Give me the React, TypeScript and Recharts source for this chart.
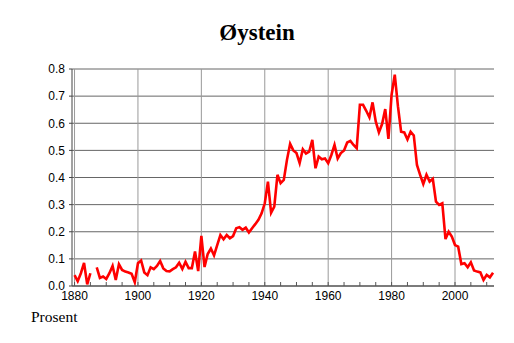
import { CartesianGrid, Line, LineChart, ReferenceLine, XAxis, YAxis } from "recharts";

const title = "Øystein";
const unitLabel = "Prosent";

// share of population (percent), one value per year from firstYear; null = no data
const firstYear = 1880;
const shares: (number | null)[] = [
  0.04, 0.018, 0.047, 0.085, 0.006, 0.047, null, 0.069, 0.03, 0.035,
  0.026, 0.047, 0.074, 0.022, 0.08, 0.059, 0.053, 0.05, 0.045, 0.014,
  0.084, 0.094, 0.05, 0.04, 0.069, 0.062, 0.074, 0.092, 0.065, 0.055,
  0.054, 0.062, 0.069, 0.086, 0.063, 0.089, 0.066, 0.066, 0.127, 0.055,
  0.185, 0.07, 0.118, 0.138, 0.113, 0.151, 0.188, 0.172, 0.188, 0.176,
  0.184, 0.213, 0.217, 0.207, 0.215, 0.197, 0.213, 0.228, 0.244, 0.268,
  0.305, 0.385, 0.27, 0.293, 0.41, 0.379, 0.391, 0.465, 0.524, 0.5,
  0.49, 0.453, 0.504, 0.488, 0.495, 0.539, 0.434, 0.477, 0.467, 0.47,
  0.453, 0.483, 0.52, 0.47, 0.49, 0.5, 0.529, 0.535, 0.52, 0.508,
  0.668, 0.668, 0.646, 0.622, 0.677, 0.607, 0.566, 0.597, 0.652, 0.542,
  0.705, 0.779, 0.663, 0.569, 0.566, 0.54, 0.569, 0.555, 0.446, 0.41,
  0.376, 0.41, 0.385, 0.395, 0.311, 0.299, 0.305, 0.173, 0.2, 0.182,
  0.151, 0.145, 0.081, 0.084, 0.069, 0.087, 0.057, 0.053, 0.05, 0.022,
  0.041, 0.032, 0.049,
];

const yTicks = [0, 0.1, 0.2, 0.3, 0.4, 0.5, 0.6, 0.7, 0.8];
const xMinorTicks = [
  1880, 1885, 1890, 1895, 1900, 1905, 1910, 1915, 1920, 1925, 1930, 1935,
  1940, 1945, 1950, 1955, 1960, 1965, 1970, 1975, 1980, 1985, 1990, 1995,
  2000, 2005, 2010,
];
const xLabelYears = [1880, 1900, 1920, 1940, 1960, 1980, 2000];

const data = shares.map((v, i) => ({ year: firstYear + i, share: v }));

const sans = "'Liberation Sans', Arial, sans-serif";
const serif = "'Liberation Serif', 'Times New Roman', serif";

// inward minor tick every 5 years, label every 20
// eslint-disable-next-line @typescript-eslint/no-explicit-any
function YearTick({ x, y, payload }: any) {
  const yr = payload?.value;
  return (
    <g>
      <line x1={x} x2={x} y1={y} y2={y - 4} stroke="#555" strokeWidth={1} />
      {xLabelYears.includes(yr) && (
        <text x={x} y={y + 14} textAnchor="middle" fontSize={12} fontFamily={sans} fill="#000">
          {yr}
        </text>
      )}
    </g>
  );
}

export default function App() {
  return (
    <div style={{ position: "fixed", left: 0, top: 0, width: 514, height: 343, background: "#fff" }}>
      <div
        style={{
          position: "absolute",
          left: 0,
          width: 514,
          top: 19,
          textAlign: "center",
          fontFamily: serif,
          fontWeight: "bold",
          fontSize: 23,
          lineHeight: "28px",
        }}
      >
        {title}
      </div>
      <LineChart
        width={514}
        height={343}
        data={data}
        margin={{ top: 69, right: 20, bottom: 27, left: 0 }}
      >
        <CartesianGrid vertical={false} stroke="#666" strokeWidth={1} />
        {xLabelYears.map((yr) => (
          <ReferenceLine key={yr} x={yr} stroke="#999" strokeWidth={1} />
        ))}
        <XAxis
          dataKey="year"
          type="number"
          domain={[1879.2, 2012.3]}
          ticks={xMinorTicks}
          interval={0}
          height={30}
          tickSize={0}
          tickMargin={0}
          tickLine={false}
          axisLine={{ stroke: "#444" }}
          tick={(props) => <YearTick {...props} />}
        />
        <YAxis
          width={72}
          domain={[0, 0.8]}
          ticks={yTicks}
          interval={0}
          tickSize={3}
          tickMargin={4}
          tickFormatter={(v: number) => v.toFixed(1)}
          axisLine={{ stroke: "#444" }}
          tickLine={{ stroke: "#444" }}
          tick={{ fontSize: 12, fontFamily: sans, fill: "#000" }}
        />
        <Line
          type="linear"
          dataKey="share"
          stroke="#ff0000"
          strokeWidth={2.6}
          dot={false}
          activeDot={false}
          connectNulls={false}
          isAnimationActive={false}
        />
      </LineChart>
      <div
        style={{
          position: "absolute",
          left: 31,
          top: 307,
          fontFamily: serif,
          fontSize: 15.5,
          lineHeight: "20px",
        }}
      >
        {unitLabel}
      </div>
    </div>
  );
}
